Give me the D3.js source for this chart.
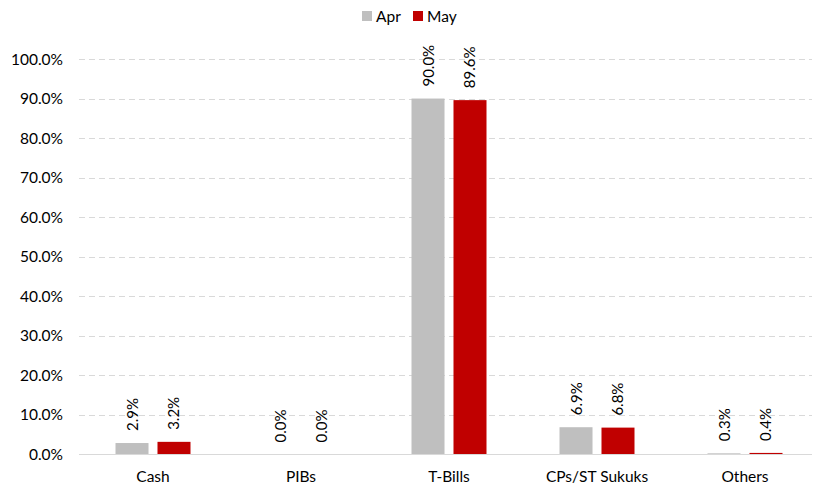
<!DOCTYPE html>
<html><head><meta charset="utf-8">
<script src="https://cdn.jsdelivr.net/npm/d3@7"></script>
<style>body{margin:0;background:#fff}svg{display:block}</style>
</head><body>
<svg id="c" width="817" height="488"></svg>
<script>
const categories = ["Cash", "PIBs", "T-Bills", "CPs/ST Sukuks", "Others"];
const seriesNames = ["Apr", "May"];
const aprValues = [2.9, 0.0, 90.0, 6.9, 0.3];
const mayValues = [3.2, 0.0, 89.6, 6.8, 0.4];
const yTicks = [0, 10, 20, 30, 40, 50, 60, 70, 80, 90, 100];
const colors = ["#BFBFBF", "#C00000"];

const font = "Lato, 'Open Sans', sans-serif";
const svg = d3.select("#c");
const x = d3.scaleBand().domain(categories).range([79, 819]);
const xs = d3.scaleBand().domain(seriesNames).range([-37.5, 37.5]).paddingInner(0.214);
const y = d3.scaleLinear().domain([0, 100]).range([454.5, 59]);

// gridlines
svg.append("g").selectAll("line").data(yTicks.filter(d => d > 0)).join("line")
  .attr("x1", 79).attr("x2", 812).attr("y1", d => Math.round(y(d)) + 0.5).attr("y2", d => Math.round(y(d)) + 0.5)
  .attr("stroke", "#D9D9D9").attr("stroke-width", 1).attr("stroke-dasharray", "6,4");

// y labels
svg.append("g").selectAll("text").data(yTicks).join("text")
  .attr("x", 63).attr("y", d => y(d) + 5.5).attr("text-anchor", "end")
  .attr("font-family", font).attr("font-size", 15.5).attr("fill", "#000")
  .text(d => d3.format(".1f")(d) + "%");

const data = categories.map((c, i) => ({c, vals: [aprValues[i], mayValues[i]]}));
const groups = svg.append("g").selectAll("g").data(data).join("g")
  .attr("transform", d => `translate(${x(d.c) + x.bandwidth() / 2},0)`);

groups.selectAll("rect").data(d => d.vals.map((v, j) => ({v, s: seriesNames[j], j}))).join("rect")
  .attr("x", d => xs(d.s)).attr("width", xs.bandwidth())
  .attr("y", d => y(d.v)).attr("height", d => y(0) - y(d.v))
  .attr("fill", d => colors[d.j]);

groups.selectAll("text").data(d => d.vals.map((v, j) => ({v, s: seriesNames[j], j}))).join("text")
  .attr("transform", d => `translate(${xs(d.s) + xs.bandwidth() / 2 + 5.5},${y(d.v) - 12}) rotate(-90)`)
  .attr("font-family", font).attr("font-size", 15).attr("fill", "#000")
  .text(d => d3.format(".1f")(d.v) + "%");

// x axis line
svg.append("line").attr("x1", 79).attr("x2", 812).attr("y1", 454.5).attr("y2", 454.5)
  .attr("stroke", "#D9D9D9").attr("stroke-width", 1);

// category labels
svg.append("g").selectAll("text").data(categories).join("text")
  .attr("x", d => x(d) + x.bandwidth() / 2).attr("y", 482).attr("text-anchor", "middle")
  .attr("font-family", font).attr("font-size", 15.5).attr("fill", "#000")
  .text(d => d);

// legend
const leg = svg.append("g");
const legX = [362, 413];
seriesNames.forEach((s, i) => {
  leg.append("rect").attr("x", legX[i]).attr("y", 11).attr("width", 10).attr("height", 10).attr("fill", colors[i]);
  leg.append("text").attr("x", legX[i] + 14).attr("y", 21.5).attr("font-family", font).attr("font-size", 15.5).attr("fill", "#000").text(s);
});
</script>
</body></html>
